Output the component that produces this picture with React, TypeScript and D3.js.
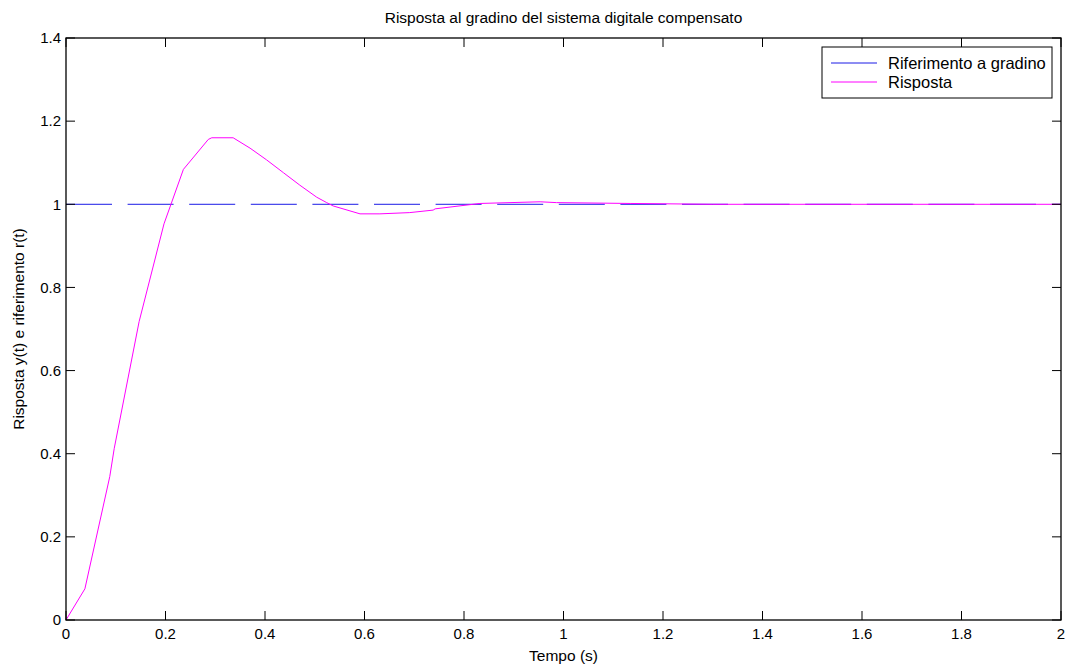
import React from 'react';
import * as d3 from 'd3';

// step reference r(t)
const refTime = [0, 2];
const refValue = [1, 1];

// compensated digital system response y(t)
const respTime = [
  0, 0.038, 0.088, 0.097, 0.147, 0.197, 0.236, 0.286, 0.293, 0.336, 0.37, 0.403,
  0.437, 0.47, 0.504, 0.524, 0.537, 0.591, 0.631, 0.691, 0.738, 0.742, 0.832,
  0.953, 0.986, 1.134, 1.3, 2.0,
];
const respValue = [
  0, 0.075, 0.345, 0.413, 0.718, 0.953, 1.084, 1.156, 1.16, 1.16, 1.135, 1.107,
  1.076, 1.046, 1.017, 1.004, 0.996, 0.977, 0.977, 0.98, 0.986, 0.989, 1.002,
  1.006, 1.004, 1.002, 1.0, 1.0,
];

const xTicks = [0, 0.2, 0.4, 0.6, 0.8, 1, 1.2, 1.4, 1.6, 1.8, 2];
const yTicks = [0, 0.2, 0.4, 0.6, 0.8, 1, 1.2, 1.4];

const title = 'Risposta al gradino del sistema digitale compensato';
const xLabel = 'Tempo (s)';
const yLabel = 'Risposta y(t) e riferimento r(t)';
const legendLabels = ['Riferimento a gradino', 'Risposta'];

const W = 1076;
const H = 665;
const margin = { top: 38, right: 15, bottom: 45, left: 66 };
const FONT = 'Liberation Sans, Arial, Helvetica, sans-serif';
const BLUE = '#1a1ae6';
const MAGENTA = '#ff00ff';

export default function App() {
  const x = d3.scaleLinear().domain([0, 2]).range([margin.left, W - margin.right]);
  const y = d3.scaleLinear().domain([0, 1.4]).range([H - margin.bottom, margin.top]);
  const [x0, x1] = x.range();
  const [y0, y1] = y.range();
  const tickLen = 9;

  const line = d3
    .line<number>()
    .x((_, i) => x(respTime[i]))
    .y(d => y(d));
  const refLine = d3
    .line<number>()
    .x((_, i) => x(refTime[i]))
    .y(d => y(d));

  const fmt = (t: number) => String(+t.toFixed(1));

  // legend box
  const lg = { x: 822, y: 47, w: 230, h: 51 };

  return (
    <svg
      width={W}
      height={H}
      style={{ position: 'absolute', left: 0, top: 0, background: '#fff' }}
      fontFamily={FONT}
    >
      <rect x={0} y={0} width={W} height={H} fill="#fff" />

      {/* plot lines */}
      <path
        d={refLine(refValue) || ''}
        fill="none"
        stroke={BLUE}
        strokeWidth={1}
        strokeDasharray="46 15.6"
      />
      <path d={line(respValue) || ''} fill="none" stroke={MAGENTA} strokeWidth={1} />

      {/* box */}
      <rect x={x0} y={y1} width={x1 - x0} height={y0 - y1} fill="none" stroke="#000" strokeWidth={1.3} />

      {/* x ticks */}
      {xTicks.map(t => (
        <g key={'x' + t}>
          <line x1={x(t)} x2={x(t)} y1={y0} y2={y0 - tickLen} stroke="#000" />
          <line x1={x(t)} x2={x(t)} y1={y1} y2={y1 + tickLen} stroke="#000" />
          <text x={x(t)} y={y0 + 19} textAnchor="middle" fontSize={15} fill="#000">
            {fmt(t)}
          </text>
        </g>
      ))}

      {/* y ticks */}
      {yTicks.map(t => (
        <g key={'y' + t}>
          <line x1={x0} x2={x0 + tickLen} y1={y(t)} y2={y(t)} stroke="#000" />
          <line x1={x1} x2={x1 - tickLen} y1={y(t)} y2={y(t)} stroke="#000" />
          <text x={x0 - 5} y={y(t)} dy="0.35em" textAnchor="end" fontSize={15} fill="#000">
            {fmt(t)}
          </text>
        </g>
      ))}

      {/* title and axis labels */}
      <text x={(x0 + x1) / 2} y={23} textAnchor="middle" fontSize={15.5} fill="#000">
        {title}
      </text>
      <text x={(x0 + x1) / 2} y={661} textAnchor="middle" fontSize={15.5} fill="#000">
        {xLabel}
      </text>
      <text
        transform={`translate(24,${(y0 + y1) / 2}) rotate(-90)`}
        textAnchor="middle"
        fontSize={15.5}
        fill="#000"
      >
        {yLabel}
      </text>

      {/* legend */}
      <rect x={lg.x} y={lg.y} width={lg.w} height={lg.h} fill="#fff" stroke="#000" strokeWidth={1} />
      {legendLabels.map((lab, i) => {
        const cy = lg.y + 16 + i * 19;
        return (
          <g key={lab}>
            <line x1={lg.x + 9} x2={lg.x + 55} y1={cy} y2={cy} stroke={i === 0 ? BLUE : MAGENTA} />
            <text x={lg.x + 66} y={cy} dy="0.35em" fontSize={16.5} fill="#000">
              {lab}
            </text>
          </g>
        );
      })}
    </svg>
  );
}
